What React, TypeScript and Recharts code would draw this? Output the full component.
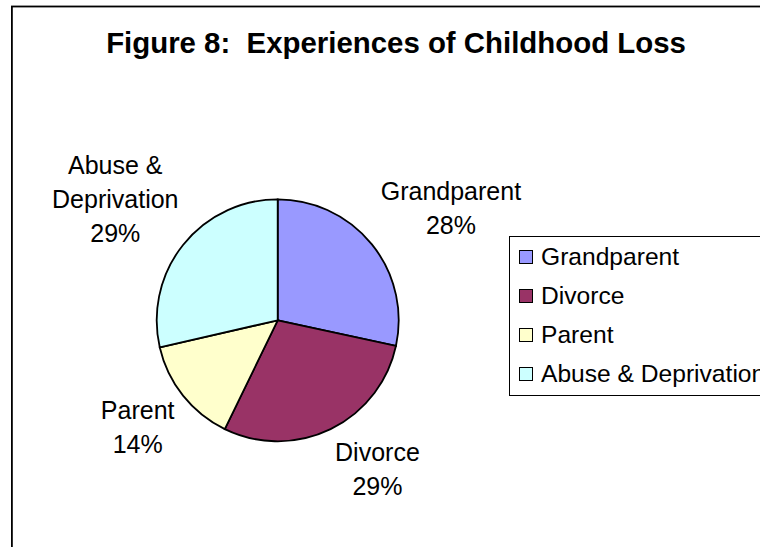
import React from "react";
import { PieChart, Pie, Cell, Legend } from "recharts";

const categories = ["Grandparent", "Divorce", "Parent", "Abuse & Deprivation"];
const values = [28.4, 28.8, 14.2, 28.6];
const colors = ["#9999FF", "#993366", "#FFFFCC", "#CCFFFF"];
// small per-label nudges (Excel's best-fit label placement)
const labelNudge: [number, number][] = [
  [17, 14],
  [24, -7],
  [-2, -2.5],
  [3, 10.5],
];

const data = categories.map((name, i) => ({ name, value: values[i] }));

const FONT = "'Liberation Sans', Arial, Helvetica, sans-serif";
const RAD = Math.PI / 180;

function splitName(name: string): string[] {
  if (name.includes(" & ")) {
    const idx = name.indexOf(" & ");
    return [name.slice(0, idx + 2), name.slice(idx + 3)];
  }
  return [name];
}

const renderLabel = (props: any) => {
  const { cx, cy, midAngle, outerRadius, percent, name, index } = props;
  const lines = [...splitName(name), `${Math.round(percent * 100)}%`];
  const lineH = 34;
  const cap = 17.5;
  const maxChars = Math.max(...lines.map((l) => l.length));
  const hw = (maxChars * 12.5) / 2;
  const hh = (cap + (lines.length - 1) * lineH) / 2;
  const c = Math.cos(-midAngle * RAD);
  const s = Math.sin(-midAngle * RAD);
  const r = outerRadius + 10 + Math.abs(c) * hw + Math.abs(s) * hh;
  const nd = labelNudge[index] || [0, 0];
  const x = cx + r * c + nd[0];
  const y = cy + r * s + nd[1];
  const firstBase = y - ((lines.length - 1) * lineH) / 2 + cap / 2;
  return (
    <text
      x={x}
      y={firstBase}
      textAnchor="middle"
      fontFamily={FONT}
      fontSize={25}
      fill="#000"
    >
      {lines.map((l, i) => (
        <tspan key={i} x={x} y={firstBase + i * lineH}>
          {l}
        </tspan>
      ))}
    </text>
  );
};

const renderLegend = (props: any) => {
  const payload = [...(props.payload || [])].sort(
    (a: any, b: any) => categories.indexOf(a.value) - categories.indexOf(b.value)
  );
  return (
    <div
      style={{
        width: 270,
        height: 160,
        border: "1px solid #000",
        background: "#fff",
        boxSizing: "border-box",
        fontFamily: FONT,
        fontSize: 24.6,
        color: "#000",
      }}
    >
      {payload.map((entry: any, i: number) => (
        <div
          key={i}
          style={{
            height: 39,
            lineHeight: "39px",
            display: "flex",
            alignItems: "center",
            whiteSpace: "nowrap",
          }}
        >
          <span
            style={{
              display: "inline-block",
              flex: "0 0 auto",
              width: 14,
              height: 14,
              boxSizing: "border-box",
              border: "1.5px solid #000",
              background: entry.color,
              marginLeft: 9,
              marginRight: 8,
              marginTop: 2,
            }}
          />
          <span>{entry.value}</span>
        </div>
      ))}
    </div>
  );
};

export default function App() {
  return (
    <div
      style={{
        position: "absolute",
        left: 0,
        top: 0,
        width: 760,
        height: 547,
        overflow: "hidden",
        background: "#fff",
      }}
    >
      <svg
        width={900}
        height={700}
        style={{ position: "absolute", left: 0, top: 0 }}
      >
        <rect
          x={11.9}
          y={6.5}
          width={850}
          height={650}
          fill="#fff"
          stroke="#000"
          strokeWidth={1.8}
        />
        <text
          x={396}
          y={53}
          textAnchor="middle"
          fontFamily={FONT}
          fontWeight="bold"
          fontSize={29.4}
          fill="#000"
        >
          {"Figure 8:\u00a0 Experiences of Childhood Loss"}
        </text>
      </svg>
      <div style={{ position: "absolute", left: 0, top: 0 }}>
        <PieChart
          width={760}
          height={547}
          margin={{ top: 0, right: 0, bottom: 0, left: 0 }}
        >
          <Pie
            data={data}
            dataKey="value"
            nameKey="name"
            cx={277.7}
            cy={320.3}
            outerRadius={121}
            startAngle={90}
            endAngle={-270}
            stroke="#000"
            strokeWidth={1.8}
            label={renderLabel}
            labelLine={false}
            isAnimationActive={false}
          >
            {data.map((d, i) => (
              <Cell key={d.name} fill={colors[i]} />
            ))}
          </Pie>
          <Legend
            layout="vertical"
            align="right"
            verticalAlign="middle"
            content={renderLegend}
            wrapperStyle={{ position: "absolute", left: 509, top: 235.5, width: 270 }}
          />
        </PieChart>
      </div>
    </div>
  );
}
